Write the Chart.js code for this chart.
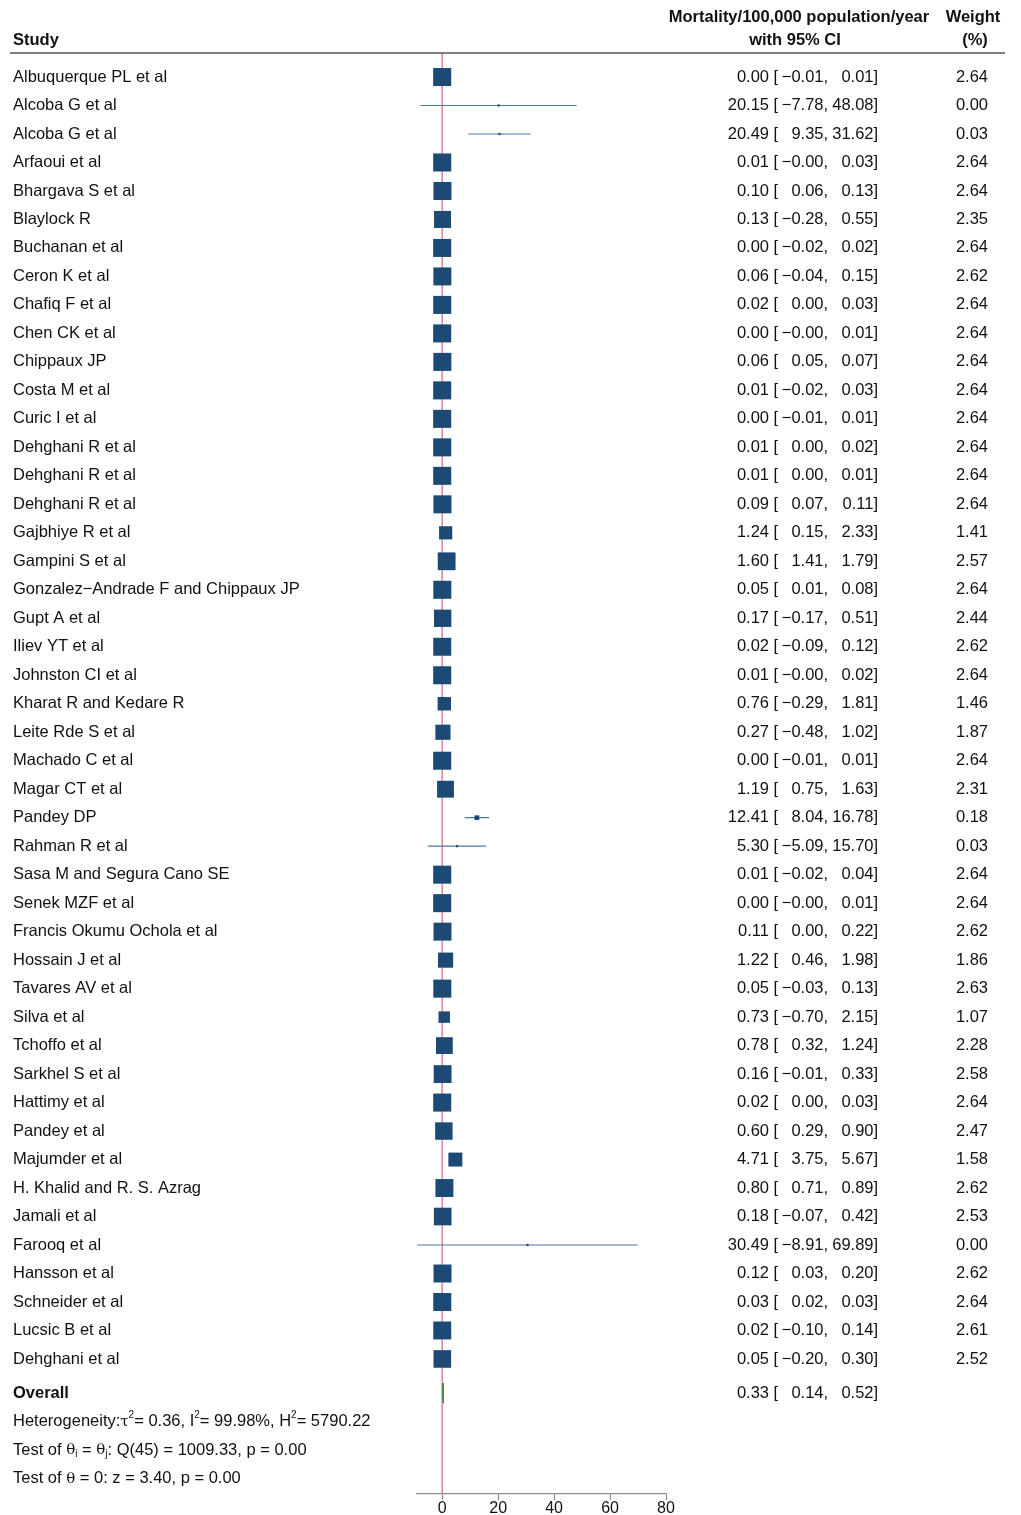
<!DOCTYPE html>
<html>
<head>
<meta charset="utf-8">
<title>Forest plot</title>
<script src="https://cdn.jsdelivr.net/npm/chart.js@4.4.0/dist/chart.umd.min.js"></script>
<style>
  html, body { margin: 0; padding: 0; background: #fff; overflow: hidden; }
  #wrap { position: relative; width: 1021px; height: 1518px; }
</style>
</head>
<body>
<div id="wrap"><canvas id="forest"></canvas></div>
<script>
// study rows, top to bottom
var studies = [
  'Albuquerque PL et al', 'Alcoba G et al', 'Alcoba G et al', 'Arfaoui et al',
  'Bhargava S et al', 'Blaylock R', 'Buchanan et al', 'Ceron K et al',
  'Chafiq F et al', 'Chen CK et al', 'Chippaux JP', 'Costa M et al',
  'Curic I et al', 'Dehghani R et al', 'Dehghani R et al', 'Dehghani R et al',
  'Gajbhiye R et al', 'Gampini S et al', 'Gonzalez\u2212Andrade F and Chippaux JP', 'Gupt A et al',
  'Iliev YT et al', 'Johnston CI et al', 'Kharat R and Kedare R', 'Leite Rde S et al',
  'Machado C et al', 'Magar CT et al', 'Pandey DP', 'Rahman R et al',
  'Sasa M and Segura Cano SE', 'Senek MZF et al', 'Francis Okumu Ochola et al', 'Hossain J et al',
  'Tavares AV et al', 'Silva et al', 'Tchoffo et al', 'Sarkhel S et al',
  'Hattimy et al', 'Pandey et al', 'Majumder et al', 'H. Khalid and R. S. Azrag',
  'Jamali et al', 'Farooq et al', 'Hansson et al', 'Schneider et al',
  'Lucsic B et al', 'Dehghani et al'
];
var est = [
  0.00, 20.15, 20.49, 0.01, 0.10, 0.13, 0.00, 0.06, 0.02, 0.00, 0.06, 0.01,
  0.00, 0.01, 0.01, 0.09, 1.24, 1.60, 0.05, 0.17, 0.02, 0.01, 0.76, 0.27,
  0.00, 1.19, 12.41, 5.30, 0.01, 0.00, 0.11, 1.22, 0.05, 0.73, 0.78, 0.16,
  0.02, 0.60, 4.71, 0.80, 0.18, 30.49, 0.12, 0.03, 0.02, 0.05
];
var lower = [
  -0.01, -7.78, 9.35, -0.00, 0.06, -0.28, -0.02, -0.04, 0.00, -0.00, 0.05, -0.02,
  -0.01, 0.00, 0.00, 0.07, 0.15, 1.41, 0.01, -0.17, -0.09, -0.00, -0.29, -0.48,
  -0.01, 0.75, 8.04, -5.09, -0.02, -0.00, 0.00, 0.46, -0.03, -0.70, 0.32, -0.01,
  0.00, 0.29, 3.75, 0.71, -0.07, -8.91, 0.03, 0.02, -0.10, -0.20
];
var upper = [
  0.01, 48.08, 31.62, 0.03, 0.13, 0.55, 0.02, 0.15, 0.03, 0.01, 0.07, 0.03,
  0.01, 0.02, 0.01, 0.11, 2.33, 1.79, 0.08, 0.51, 0.12, 0.02, 1.81, 1.02,
  0.01, 1.63, 16.78, 15.70, 0.04, 0.01, 0.22, 1.98, 0.13, 2.15, 1.24, 0.33,
  0.03, 0.90, 5.67, 0.89, 0.42, 69.89, 0.20, 0.03, 0.14, 0.30
];
var weight = [
  2.64, 0.00, 0.03, 2.64, 2.64, 2.35, 2.64, 2.62, 2.64, 2.64, 2.64, 2.64,
  2.64, 2.64, 2.64, 2.64, 1.41, 2.57, 2.64, 2.44, 2.62, 2.64, 1.46, 1.87,
  2.64, 2.31, 0.18, 0.03, 2.64, 2.64, 2.62, 1.86, 2.63, 1.07, 2.28, 2.58,
  2.64, 2.47, 1.58, 2.62, 2.53, 0.00, 2.62, 2.64, 2.61, 2.52
];
var overallEst = 0.33;
var overallLower = 0.14;
var overallUpper = 0.52;
var xTicks = [0, 20, 40, 60, 80];

// footer statistics, as runs of text (g = greek, sup / sub = script)
var statLines = [
  [['Heterogeneity:'], ['\u03c4', 'g'], ['2', 'sup'], ['= 0.36, I'], ['2', 'sup'], ['= 99.98%, H'], ['2', 'sup'], ['= 5790.22']],
  [['Test of '], ['\u03b8', 'g'], ['i', 'sub'], [' = '], ['\u03b8', 'g'], ['j', 'sub'], [': Q(45) = 1009.33, p = 0.00']],
  [['Test of '], ['\u03b8', 'g'], [' = 0: z = 3.40, p = 0.00']]
];

var FONT = '"Liberation Sans", Arial, sans-serif';
var ROW_OVERALL = studies.length + 0.2;

function fmt(v) {
  if (v < 0 || Object.is(v, -0)) return '\u2212' + Math.abs(v).toFixed(2);
  return v.toFixed(2);
}

// CI lines: one dataset, pieces split by empty points
var ciData = [];
for (var i = 0; i < studies.length; i++) {
  ciData.push({x: lower[i], y: i}, {x: upper[i], y: i}, {x: null, y: null});
}
var boxData = est.map(function (v, i) { return {x: v, y: i}; });
var diamondData = [
  {x: overallLower, y: ROW_OVERALL},
  {x: overallEst, y: ROW_OVERALL - 0.35},
  {x: overallUpper, y: ROW_OVERALL},
  {x: overallEst, y: ROW_OVERALL + 0.35},
  {x: overallLower, y: ROW_OVERALL}
];

var forestText = {
  id: 'forestText',
  beforeDatasetsDraw: function (chart) {
    var c = chart.ctx, a = chart.chartArea, x0 = chart.scales.x.getPixelForValue(0);
    c.save();
    c.strokeStyle = '#d9849b';
    c.lineWidth = 1.5;
    c.beginPath();
    c.moveTo(x0, a.top);
    c.lineTo(x0, a.bottom);
    c.stroke();
    c.restore();
  },
  afterDraw: function (chart) {
    var c = chart.ctx, ys = chart.scales.y;
    c.save();
    c.fillStyle = '#111';
    c.textBaseline = 'middle';

    // header
    c.font = 'bold 16.5px ' + FONT;
    c.textAlign = 'left';
    c.fillText('Study', 13, 40);
    c.textAlign = 'center';
    c.fillText('Mortality/100,000 population/year', 799, 17);
    c.fillText('with 95% CI', 795, 40);
    c.fillText('Weight', 973, 17);
    c.fillText('(%)', 975, 40);
    c.strokeStyle = '#555';
    c.lineWidth = 1.5;
    c.beginPath();
    c.moveTo(10, 53);
    c.lineTo(1005, 53);
    c.stroke();

    function ciText(y, e, lo, hi) {
      c.textAlign = 'right';
      c.fillText(fmt(e), 769, y);
      c.textAlign = 'left';
      c.fillText('[', 773.5, y);
      c.textAlign = 'right';
      c.fillText(fmt(lo), 823.5, y);
      c.textAlign = 'left';
      c.fillText(',', 823.5, y);
      c.textAlign = 'right';
      c.fillText(fmt(hi), 873.5, y);
      c.textAlign = 'left';
      c.fillText(']', 873.5, y);
    }

    c.font = '16.5px ' + FONT;
    for (var i = 0; i < studies.length; i++) {
      var y = ys.getPixelForValue(i);
      c.textAlign = 'left';
      c.fillText(studies[i], 13, y);
      ciText(y, est[i], lower[i], upper[i]);
      c.textAlign = 'right';
      c.fillText(weight[i].toFixed(2), 988, y);
    }

    var yo = ys.getPixelForValue(ROW_OVERALL);
    ciText(yo, overallEst, overallLower, overallUpper);
    c.font = 'bold 16.5px ' + FONT;
    c.textAlign = 'left';
    c.fillText('Overall', 13, yo);

    statLines.forEach(function (runs, k) {
      var y = ys.getPixelForValue(ROW_OVERALL + 1 + k), x = 13;
      c.textAlign = 'left';
      runs.forEach(function (r) {
        var dy = 0;
        if (r[1] === 'g') c.font = '15px "DejaVu Serif", serif';
        else if (r[1] === 'sup') { c.font = '10px ' + FONT; dy = -6; }
        else if (r[1] === 'sub') { c.font = '10px ' + FONT; dy = 4; }
        else c.font = '16.5px ' + FONT;
        c.fillText(r[0], x, y + dy);
        x += c.measureText(r[0]).width;
      });
    });
    c.restore();
  }
};

new Chart(document.getElementById('forest'), {
  type: 'scatter',
  data: {
    datasets: [
      {
        label: 'CI',
        data: ciData,
        showLine: true,
        spanGaps: false,
        borderColor: '#4b77a1',
        borderWidth: 1.2,
        pointRadius: 0,
        order: 3
      },
      {
        label: 'Overall',
        data: diamondData,
        showLine: true,
        borderColor: '#3d8a3d',
        backgroundColor: '#3d8a3d',
        borderWidth: 1,
        pointRadius: 0,
        order: 2
      },
      {
        label: 'Studies',
        data: boxData,
        pointStyle: 'rect',
        pointRadius: function (ctx) {
          var side = Math.max(11.1 * Math.sqrt(weight[ctx.dataIndex]), 2.2);
          return side / Math.SQRT2;
        },
        backgroundColor: '#1c4a75',
        borderWidth: 0,
        order: 1
      }
    ]
  },
  options: {
    responsive: true,
    maintainAspectRatio: false,
    animation: false,
    layout: { padding: { left: 417, right: 355, top: 53, bottom: 0 } },
    plugins: { legend: { display: false }, tooltip: { enabled: false } },
    scales: {
      x: {
        type: 'linear',
        min: -9,
        max: 80,
        afterBuildTicks: function (s) { s.ticks = xTicks.map(function (v) { return {value: v}; }); },
        grid: { drawOnChartArea: false, drawTicks: true, tickLength: 6, tickColor: '#8c8c8c', tickWidth: 1.2 },
        border: { color: '#8c8c8c', width: 1.2 },
        ticks: { color: '#111', padding: 1, maxRotation: 0, font: { family: FONT, size: 16, lineHeight: 1 } }
      },
      y: {
        type: 'linear',
        reverse: true,
        min: -0.843,
        max: 49.74,
        display: false
      }
    }
  },
  plugins: [forestText]
});
</script>
</body>
</html>
